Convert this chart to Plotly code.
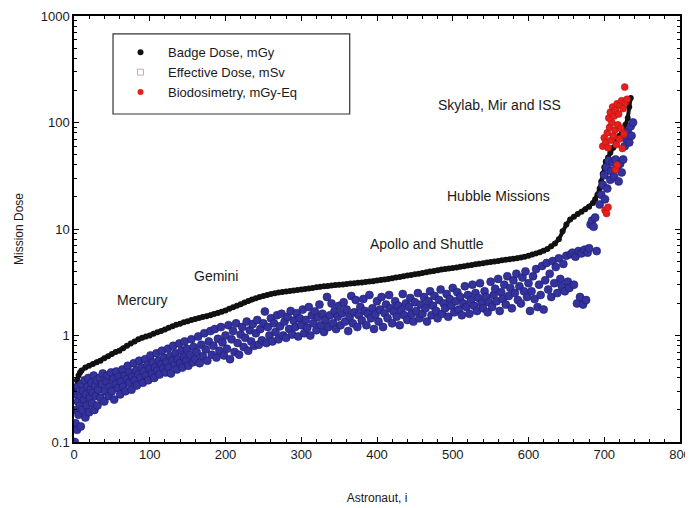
import math
import plotly.graph_objects as go

# ---------------- data ----------------
badge_x = [0, 2, 4, 6, 8, 10,
           15, 20, 25, 30, 35, 40, 45, 50, 55, 60, 65, 70, 75, 80, 85, 90, 95, 100,
           105, 110, 115, 120, 125, 130, 135, 140, 145, 150, 155, 160, 165, 170, 175, 180,
           185, 190, 195, 200, 205, 210, 215, 220, 225, 230, 235, 240, 245, 250, 255, 260,
           265, 270, 275, 280, 285, 290, 295, 300, 305, 310, 315, 320, 325, 330, 335, 340,
           345, 350, 355, 360, 365, 370, 375, 380, 385, 390, 395, 400, 405, 410, 415, 420,
           425, 430, 435, 440, 445, 450, 455, 460, 465, 470, 475, 480, 485, 490, 495, 500,
           505, 510, 515, 520, 525, 530, 535, 540, 545, 550, 555, 560, 565, 570, 575, 580,
           585, 590, 595, 600, 605, 610, 615, 620, 625, 630, 635, 640, 645, 650, 655, 660,
           665, 670, 675, 680, 685, 688, 691, 694, 696, 698, 700, 702, 705, 708, 712, 716,
           720, 724, 728, 731, 733, 735]
badge_y = [0.28, 0.33, 0.38, 0.42, 0.45, 0.47,
           0.50, 0.52, 0.54, 0.56, 0.58, 0.61, 0.64, 0.67, 0.70, 0.72, 0.76, 0.80, 0.84, 0.88, 0.92, 0.95, 0.98, 1.00,
           1.04, 1.07, 1.10, 1.14, 1.18, 1.22, 1.26, 1.29, 1.33, 1.36, 1.40, 1.43, 1.46, 1.49, 1.52, 1.55,
           1.59, 1.63, 1.67, 1.72, 1.78, 1.84, 1.90, 1.97, 2.04, 2.11, 2.18, 2.24, 2.30, 2.35, 2.40, 2.45,
           2.49, 2.53, 2.56, 2.59, 2.62, 2.65, 2.68, 2.71, 2.74, 2.77, 2.80, 2.84, 2.87, 2.90, 2.92, 2.95,
           2.98, 3.00, 3.02, 3.05, 3.07, 3.10, 3.12, 3.15, 3.18, 3.21, 3.24, 3.28, 3.32, 3.36, 3.40, 3.45,
           3.50, 3.55, 3.60, 3.65, 3.70, 3.75, 3.80, 3.86, 3.92, 3.98, 4.04, 4.10, 4.16, 4.22, 4.26, 4.30,
           4.36, 4.42, 4.48, 4.54, 4.60, 4.66, 4.72, 4.78, 4.84, 4.90, 4.96, 5.02, 5.08, 5.14, 5.20, 5.26,
           5.32, 5.40, 5.50, 5.60, 5.75, 5.90, 6.05, 6.25, 6.50, 6.90, 7.30, 8.00, 9.50, 11.0, 12.3, 13.0,
           13.8, 14.5, 15.3, 16.2, 17.5, 19.0, 21.0, 24.0, 28.0, 33.0, 38.0, 43.0, 47.0, 52.0, 58.0, 66.0,
           75.0, 85.0, 95.0, 110.0, 140.0, 170.0]

effective_x = [
    1, 2, 3, 3, 4, 5, 5, 6, 7, 8, 9, 9, 10,
    11, 12, 13, 14, 15, 16, 17, 18, 19, 20, 21, 22, 23, 24, 25, 26, 27, 28, 29, 30,
    31, 32, 34, 35, 37, 38, 40, 41, 43, 44, 46, 47, 49, 50, 52, 53, 55, 56, 58, 59,
    61, 62, 64, 65, 67, 68, 70, 71, 73, 74, 76, 77, 79, 80, 82, 83, 85, 86, 88, 89,
    91, 92, 94, 95, 97, 98, 100, 101, 103, 104, 106, 107, 109, 110, 112, 113, 115, 116, 118, 119,
    121, 122, 124, 125, 127, 128, 130, 131, 133, 134, 136, 137, 139, 140, 142, 143, 145, 146, 148, 149,
    151, 153, 155, 157, 158, 160, 162, 164, 166, 168, 170, 172, 174, 176, 178, 180, 182, 184, 186, 188, 190, 192, 194, 196, 198, 200,
    202, 204, 206, 208, 210, 212, 214, 216, 218, 220, 222, 224, 226, 228, 230, 232, 234, 236, 238, 240, 242, 244, 246, 248, 250,
    252, 254, 256, 258, 260, 262, 264, 266, 268, 270, 272, 274, 276, 278, 280, 282, 284, 286, 288, 290, 292, 294, 296, 298, 300,
    302, 304, 306, 308, 310, 312, 314, 316, 318, 320, 322, 324, 326, 328, 330, 332, 334, 336, 338, 340, 342, 344, 346, 348, 350,
    352, 354, 356, 358, 360, 362, 364, 366, 368, 370, 372, 374, 376, 378, 380, 382, 384, 386, 388, 390, 392, 394, 396, 398, 400,
    402, 404, 406, 408, 410, 412, 414, 416, 418, 420, 422, 424, 426, 428, 430, 432, 434, 436, 438, 440, 442, 444, 446, 448, 450,
    452, 454, 456, 458, 460, 462, 464, 466, 468, 470, 472, 474, 476, 478, 480, 482, 484, 486, 488, 490, 492, 494, 496, 498, 500,
    502, 504, 506, 508, 510, 512, 514, 516, 518, 520, 522, 524, 526, 528, 530, 532, 534, 536, 538, 540, 542, 544, 546, 548, 550,
    552, 554, 556, 558, 560, 562, 564, 566, 568, 570, 572, 574, 576, 578, 580, 582, 584, 586, 588, 590, 592, 594, 596, 598, 600,
    602, 604, 606, 608, 610, 612, 614, 616, 618, 620, 622, 624, 626, 628, 630, 632, 634, 636, 638, 640, 642, 644, 646, 648, 650,
    652, 654, 656, 658, 660, 662, 664, 666, 668, 670, 672, 674, 676, 678, 680, 682, 684, 686, 688, 690,
    694, 696, 698, 700, 701, 703, 704, 706, 708, 709, 711, 713, 715, 717, 719, 721, 723, 725, 727, 729, 731, 733, 735, 736, 738]
effective_y = [
    0.10, 0.15, 0.20, 0.28, 0.13, 0.24, 0.33, 0.18, 0.30, 0.22, 0.14, 0.27, 0.35,
    0.20, 0.30, 0.25, 0.38, 0.17, 0.28, 0.22, 0.33, 0.40, 0.19, 0.26, 0.31, 0.36, 0.23, 0.29, 0.42, 0.20, 0.34, 0.27, 0.38,
    0.22, 0.31, 0.40, 0.26, 0.35, 0.44, 0.24, 0.30, 0.37, 0.42, 0.27, 0.33, 0.45, 0.30, 0.39, 0.25, 0.35, 0.46, 0.32, 0.41,
    0.28, 0.37, 0.48, 0.33, 0.42, 0.30, 0.39, 0.52, 0.36, 0.45, 0.31, 0.41, 0.55, 0.38, 0.47, 0.34, 0.43, 0.58, 0.40, 0.50,
    0.36, 0.46, 0.60, 0.42, 0.53, 0.38, 0.49, 0.65, 0.44, 0.56, 0.40, 0.50, 0.68, 0.47, 0.58, 0.43, 0.54, 0.72, 0.49, 0.62,
    0.45, 0.56, 0.75, 0.50, 0.64, 0.44, 0.58, 0.80, 0.53, 0.68, 0.48, 0.60, 0.84, 0.55, 0.72, 0.50, 0.63, 0.88, 0.58, 0.75,
    0.52, 0.66, 0.92, 0.56, 0.78, 0.60, 0.70, 0.98, 0.55, 0.82, 0.64, 1.05, 0.74, 0.58, 0.88, 1.10, 0.66, 0.80, 1.15, 0.62, 0.93, 0.72, 1.20, 0.86, 0.65, 1.00,
    0.75, 1.25, 0.60, 0.92, 1.10, 0.70, 1.30, 0.85, 0.66, 1.02, 1.20, 0.78, 0.95, 1.35, 0.72, 1.12, 0.88, 1.28, 0.80, 1.05, 1.40, 0.82, 1.15, 0.90, 1.30,
    1.68, 0.85, 1.20, 1.00, 1.45, 0.88, 1.30, 1.08, 1.55, 0.92, 1.22, 1.60, 1.00, 1.35, 0.95, 1.50, 1.15, 1.70, 1.02, 1.38, 1.20, 1.62, 0.98, 1.45, 1.25,
    1.75, 1.05, 1.40, 1.18, 1.85, 1.00, 1.55, 1.30, 1.68, 1.12, 1.48, 1.95, 1.25, 1.60, 1.08, 1.40, 2.30, 1.20, 1.55, 2.00, 1.30, 1.70, 1.15, 1.50, 1.90,
    1.25, 1.62, 2.05, 1.35, 1.75, 1.10, 1.50, 2.35, 1.30, 1.65, 2.15, 1.20, 1.55, 1.85, 1.38, 2.20, 1.70, 1.25, 1.60, 2.40, 1.45, 1.80, 1.15, 1.58, 2.10,
    1.35, 1.75, 2.30, 1.20, 1.62, 1.95, 1.45, 2.40, 1.80, 1.30, 1.68, 2.10, 1.50, 1.90, 1.25, 1.72, 2.45, 1.55, 2.00, 1.40, 1.85, 2.25, 1.60, 1.35, 2.05,
    1.70, 2.50, 1.45, 1.95, 1.60, 2.30, 1.80, 1.35, 2.10, 2.60, 1.55, 1.90, 2.35, 1.70, 1.45, 2.15, 2.70, 1.60, 2.00, 1.80, 2.45, 1.50, 2.20, 1.90, 2.80,
    1.65, 2.10, 2.55, 1.75, 2.30, 1.55, 2.00, 2.90, 1.85, 2.40, 1.60, 2.15, 3.00, 1.90, 2.50, 1.70, 2.25, 3.10, 2.00, 1.80, 2.60, 2.30, 1.65, 2.05, 3.20,
    1.85, 2.40, 2.75, 2.10, 3.40, 1.70, 2.55, 2.20, 3.00, 1.95, 3.60, 2.35, 2.80, 1.80, 3.30, 2.50, 3.80, 2.15, 2.90, 2.00, 3.50, 2.60, 4.00, 2.30, 3.10,
    1.70, 2.60, 3.60, 2.20, 4.20, 1.85, 3.00, 2.40, 4.50, 1.75, 3.30, 4.80, 2.70, 3.80, 2.30, 5.00, 3.10, 4.40, 2.50, 5.30, 3.40, 2.90, 4.70, 2.60, 5.60,
    3.20, 2.80, 5.80, 6.00, 3.00, 5.50, 2.00, 6.20, 2.30, 5.90, 1.95, 6.40, 2.15, 6.00, 6.60, 11.0, 12.0, 10.5, 12.8, 6.20,
    17, 21, 26, 32, 19, 38, 24, 44, 29, 35, 42, 31, 45, 38, 28, 41, 34, 45, 60, 70, 82, 65, 92, 75, 100]

bio_x = [701, 703, 705,
         698, 700, 702, 704, 705, 707, 709, 710, 712, 714, 716, 718, 720, 722, 724, 726,
         706, 708, 711, 713, 715, 717, 719, 721, 723, 725, 728, 730,
         727, 715, 717]
bio_y = [15, 14, 16,
         60, 72, 65, 80, 58, 90, 68, 100, 75, 85, 62, 95, 70, 88, 57, 78,
         110, 125, 140, 115, 130, 150, 120, 145, 160, 135, 155, 165,
         215, 36, 40]

assert len(badge_x) == len(badge_y)
assert len(effective_x) == len(effective_y)
assert len(bio_x) == len(bio_y)

series_names = ["Badge Dose, mGy", "Effective Dose, mSv", "Biodosimetry, mGy-Eq"]

labels = ["Mercury", "Gemini", "Apollo and Shuttle", "Hubble Missions", "Skylab, Mir and ISS"]
label_x = [91, 187, 466, 560, 562]
label_y = [2.17, 3.64, 7.2, 20.3, 147]

x_ticks = [0, 100, 200, 300, 400, 500, 600, 700, 800]
y_ticks = [0.1, 1, 10, 100, 1000]
y_tick_text = ["0.1", "1", "10", "100", "1000"]

# ---------------- figure ----------------
FONT = "Liberation Sans, Arial, sans-serif"
TXT = "#1a1a1a"
BLACK = "#111111"
BLUE = "#34329c"
RED = "#e3201b"

fig = go.Figure()

# badge dose: dense sorted curve drawn as markers joined by a thick line
fig.add_trace(go.Scatter(
    x=badge_x, y=badge_y, mode="lines+markers", name=series_names[0],
    showlegend=False,
    line=dict(color=BLACK, width=4),
    marker=dict(color=BLACK, size=6, line=dict(width=0)),
))
fig.add_trace(go.Scatter(
    x=effective_x, y=effective_y, mode="markers", name=series_names[1],
    showlegend=False,
    marker=dict(color=BLUE, size=8, line=dict(color="#1e1c6c", width=0.6)),
))
fig.add_trace(go.Scatter(
    x=bio_x, y=bio_y, mode="markers", name=series_names[2],
    showlegend=False,
    marker=dict(color=RED, size=7, line=dict(color="#b01010", width=0.5)),
))

# legend entries
fig.add_trace(go.Scatter(x=[None], y=[None], mode="markers", name=series_names[0],
                         marker=dict(color=BLACK, size=6)))
fig.add_trace(go.Scatter(x=[None], y=[None], mode="markers", name=series_names[1],
                         marker=dict(color="#c9a9b6", size=6, symbol="square-open", line=dict(width=1))))
fig.add_trace(go.Scatter(x=[None], y=[None], mode="markers", name=series_names[2],
                         marker=dict(color=RED, size=6)))

for t, lx, ly in zip(labels, label_x, label_y):
    fig.add_annotation(x=lx, y=math.log10(ly), text=t, showarrow=False,
                       font=dict(family=FONT, size=14, color=TXT))

# legend frame
fig.add_shape(type="rect", xref="paper", yref="paper",
              x0=0.0644, x1=0.455, y0=0.770, y1=0.958,
              line=dict(color="#333333", width=1.2), fillcolor="rgba(0,0,0,0)")

# the page places the figure 8 px from the top-left corner, so margins compensate
fig.update_layout(
    width=693, height=508,
    margin=dict(l=66, r=21, t=8, b=74),
    paper_bgcolor="white", plot_bgcolor="white",
    font=dict(family=FONT, size=12, color=TXT),
    showlegend=True,
    legend=dict(
        x=0.0644, y=0.95, xanchor="left", yanchor="top",
        borderwidth=0, bgcolor="rgba(0,0,0,0)",
        font=dict(family=FONT, size=13, color=TXT),
        itemwidth=45, tracegroupgap=0,
    ),
)

fig.update_xaxes(
    range=[0, 800], tickvals=x_ticks, automargin=False, ticklabeloverflow="allow",
    ticks="inside", ticklen=5, tickwidth=1.2, tickcolor="black",
    minor=dict(ticks="inside", ticklen=3, dtick=20, tickcolor="black"),
    showline=True, linecolor="black", linewidth=1.5, mirror="allticks",
    showgrid=False, zeroline=False,
    tickfont=dict(family=FONT, size=13, color=TXT),
    title=dict(text="Astronaut, i", font=dict(family=FONT, size=12, color=TXT), standoff=32),
)
fig.update_yaxes(
    type="log", range=[-1, 3], tickvals=y_ticks, ticktext=y_tick_text, automargin=False,
    ticklabeloverflow="allow",
    ticks="inside", ticklen=5, tickwidth=1.2, tickcolor="black",
    minor=dict(ticks="inside", ticklen=3, tickcolor="black",
               tickvals=[v * m for v in [0.1, 1, 10, 100] for m in range(2, 10)]),
    showline=True, linecolor="black", linewidth=1.5, mirror="allticks",
    showgrid=False, zeroline=False,
    tickfont=dict(family=FONT, size=13, color=TXT),
    title=dict(text="Mission Dose", font=dict(family=FONT, size=12, color=TXT), standoff=15),
)

fig.write_html("out.html")
